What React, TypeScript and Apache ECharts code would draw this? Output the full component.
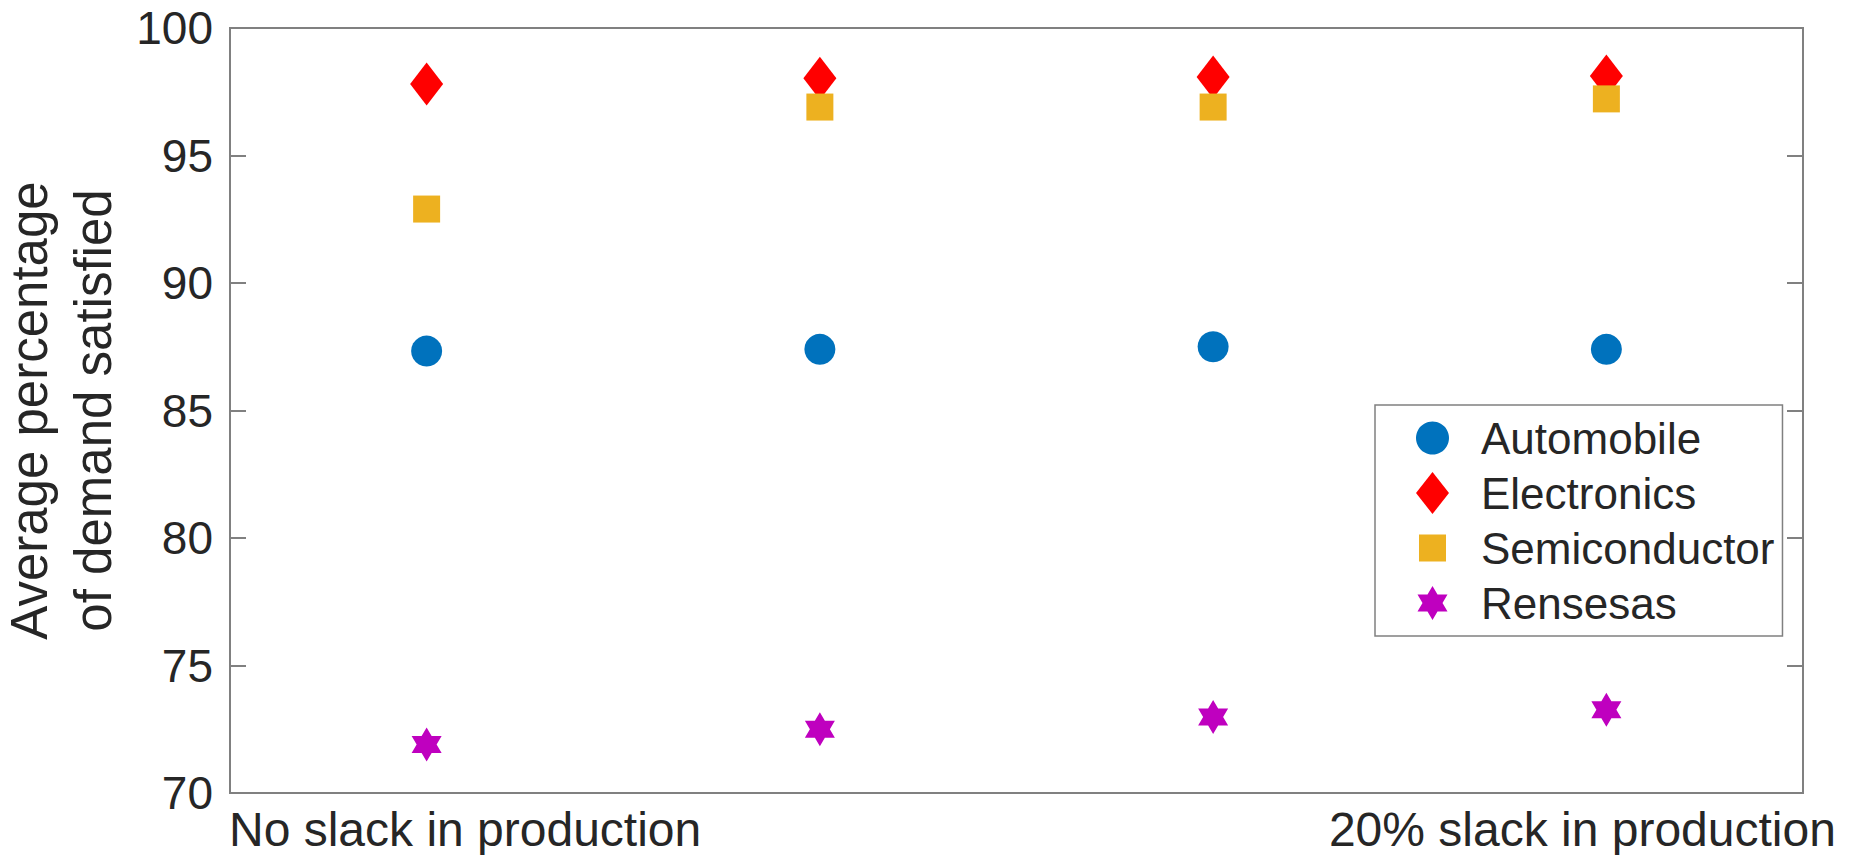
import React, { useEffect, useRef } from "react";
import * as echarts from "echarts";

// ---- data ----
const xCategories = ["No slack in production", "Slack level 2", "Slack level 3", "20% slack in production"];
const xTickLabels = ["No slack in production", "", "", "20% slack in production"];
const seriesNames = ["Automobile", "Electronics", "Semiconductor", "Rensesas"];
const automobile = [87.33, 87.4, 87.5, 87.4];
const electronics = [97.8, 98.03, 98.08, 98.12];
const semiconductor = [92.9, 96.9, 96.9, 97.22];
const rensesas = [71.9, 72.5, 72.98, 73.26];
const yMin = 70;
const yMax = 100;
const yStep = 5;

const FONT = "'Liberation Sans', Arial, Helvetica, sans-serif";
const TEXT = "#262626";
const AXIS = "#808080";

const STAR = "path://M100,0 L128.87,50 L186.6,50 L157.7,100 L186.6,150 L128.87,150 L100,200 L71.13,150 L13.4,150 L42.3,100 L13.4,50 L71.13,50 Z";
const LEG_DIAMOND = "path://M16.5,0 L33,21 L16.5,42 L0,21 Z";
const LEG_SQUARE = "path://M0,0 L0,0 M3,7.5 L30,7.5 L30,34.5 L3,34.5 Z M33,42 L33,42";
const LEG_STAR = "path://M0,0 L0,0 M16.5,4 L21.5,12.5 L31.5,12.5 L26.5,21 L31.5,29.5 L21.5,29.5 L16.5,38 L11.5,29.5 L1.5,29.5 L6.5,21 L1.5,12.5 L11.5,12.5 Z M33,42 L33,42";

export default function App() {
  const ref = useRef<HTMLDivElement>(null);
  useEffect(() => {
    document.body.style.margin = "0";
    const chart = echarts.init(ref.current!, null, { renderer: "svg" });
    const option: any = {
      animation: false,
      backgroundColor: "#ffffff",
      textStyle: { fontFamily: FONT },
      grid: {
        left: 230,
        top: 28,
        right: 58,
        bottom: 62,
        show: true,
        borderColor: AXIS,
        borderWidth: 2,
        backgroundColor: "transparent",
        containLabel: false,
        outerBoundsMode: "none",
      },
      xAxis: {
        type: "category",
        data: xCategories,
        boundaryGap: true,
        axisLine: { show: false },
        axisTick: { show: false },
        splitLine: { show: false },
        axisLabel: {
          interval: 0,
          hideOverlap: false,
          margin: 12,
          color: TEXT,
          fontFamily: FONT,
          fontSize: 48,
          formatter: (_v: string, idx: number) => {
            const t = xTickLabels[idx];
            if (!t) return "";
            return idx === 0 ? `{l|${t}}` : `{r|${t}}`;
          },
          rich: {
            l: { fontSize: 48, fontFamily: FONT, color: TEXT, padding: [0, 0, 0, 77] },
            r: { fontSize: 48, fontFamily: FONT, color: TEXT, padding: [0, 48, 0, 0] },
          },
        },
      },
      yAxis: [
        {
          type: "value",
          min: yMin,
          max: yMax,
          interval: yStep,
          position: "left",
          name: "Average percentage\nof demand satisfied",
          nameLocation: "middle",
          nameRotate: 90,
          nameGap: 104,
          nameTextStyle: { fontSize: 51, lineHeight: 64, color: TEXT, fontFamily: FONT },
          axisLine: { show: false },
          axisTick: { show: true, inside: true, length: 16, lineStyle: { color: AXIS, width: 2 } },
          splitLine: { show: false },
          axisLabel: { color: TEXT, fontSize: 46, margin: 17, fontFamily: FONT },
        },
        {
          type: "value",
          min: yMin,
          max: yMax,
          interval: yStep,
          position: "right",
          axisLine: { show: false },
          axisTick: { show: true, inside: true, length: 16, lineStyle: { color: AXIS, width: 2 } },
          splitLine: { show: false },
          axisLabel: { show: false },
        },
      ],
      legend: {
        orient: "vertical",
        left: 1375,
        top: 405,
        padding: [11, 8, 11, 41],
        itemGap: 11,
        itemWidth: 33,
        itemHeight: 42,
        symbolKeepAspect: true,
        borderColor: AXIS,
        borderWidth: 1.5,
        backgroundColor: "#ffffff",
        formatter: (name: string) => `{t|${name}}`,
        textStyle: {
          rich: {
            t: { fontSize: 44, lineHeight: 44, color: TEXT, fontFamily: FONT, padding: [0, 0, 0, 27] },
          },
        },
        data: [
          { name: seriesNames[0], icon: "circle" },
          { name: seriesNames[1], icon: LEG_DIAMOND },
          { name: seriesNames[2], icon: LEG_SQUARE },
          { name: seriesNames[3], icon: LEG_STAR },
        ],
      },
      series: [
        {
          name: seriesNames[0],
          type: "scatter",
          data: automobile,
          symbol: "circle",
          symbolSize: 31,
          itemStyle: { color: "#0072BD", opacity: 1 },
        },
        {
          name: seriesNames[1],
          type: "scatter",
          data: electronics,
          symbol: "diamond",
          symbolSize: [33, 43],
          itemStyle: { color: "#FF0000", opacity: 1 },
        },
        {
          name: seriesNames[2],
          type: "scatter",
          data: semiconductor,
          symbol: "rect",
          symbolSize: 27,
          itemStyle: { color: "#EDB120", opacity: 1 },
        },
        {
          name: seriesNames[3],
          type: "scatter",
          data: rensesas,
          symbol: STAR,
          symbolSize: [30, 34],
          itemStyle: { color: "#BF00BF", opacity: 1 },
        },
      ],
    };
    chart.setOption(option);
    return () => chart.dispose();
  }, []);
  return <div ref={ref} style={{ width: 1861, height: 855 }} />;
}
